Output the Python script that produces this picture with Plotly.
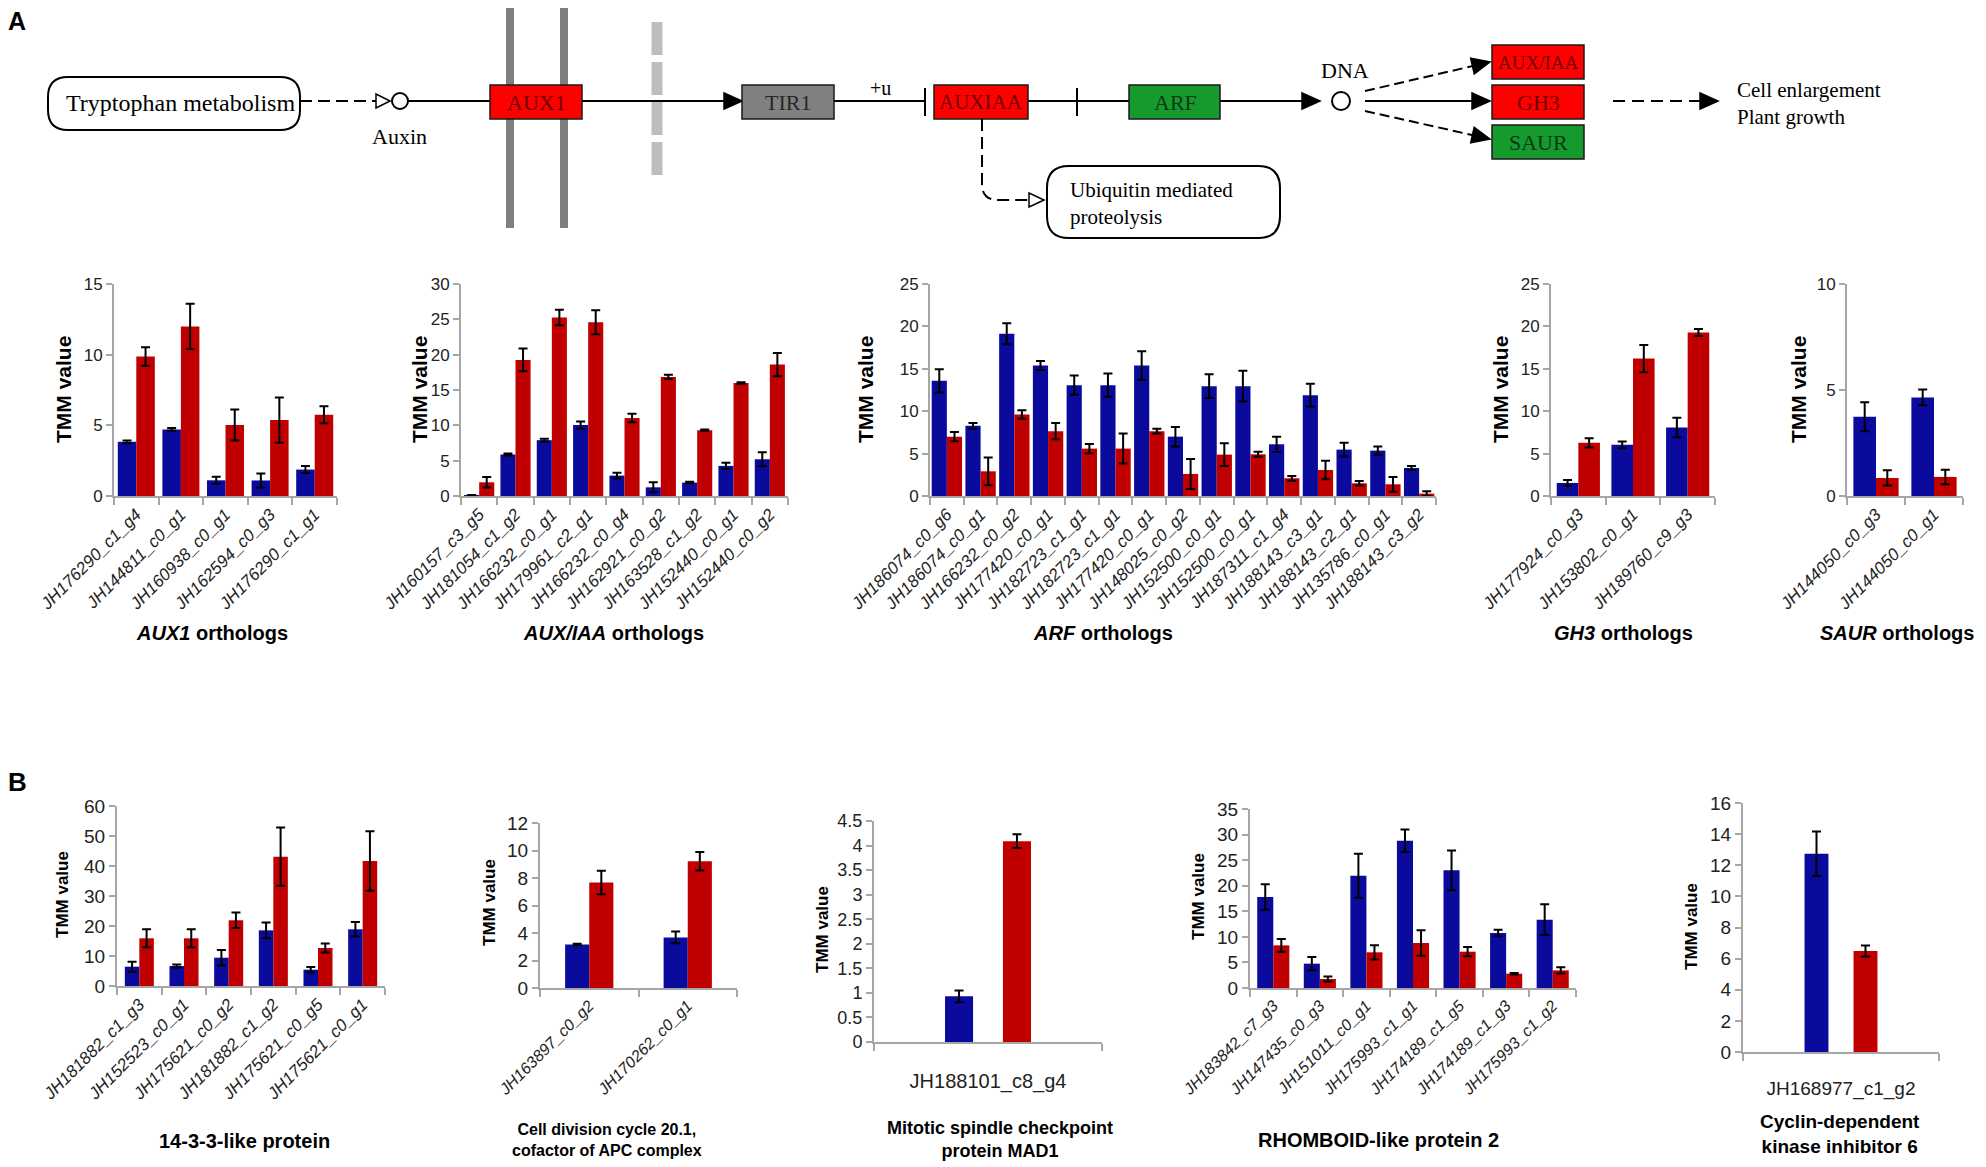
import numpy as np
import plotly.graph_objects as go

W, H = 1986, 1167          # target picture size
OFF = 8                    # default page margin of the html body
FW, FH = W - OFF, H - OFF  # figure size so that it exactly fills the window
BLUE = "#0A0A9C"
RED = "#C00000"
AXC = "#A6A6A6"
SANS = "Liberation Sans, Arial, sans-serif"
SERIF = "Liberation Serif, Times New Roman, serif"

# ---------------- data ----------------
aux1_genes = ["JH176290_c1_g4", "JH144811_c0_g1", "JH160938_c0_g1", "JH162594_c0_g3", "JH176290_c1_g1"]
aux1_blue = [3.83, 4.71, 1.11, 1.10, 1.87]
aux1_blue_err = [0.10, 0.10, 0.25, 0.50, 0.25]
aux1_red = [9.87, 12.0, 5.02, 5.37, 5.75]
aux1_red_err = [0.65, 1.6, 1.1, 1.6, 0.6]

auxiaa_genes = ["JH160157_c3_g5", "JH181054_c1_g2", "JH166232_c0_g1", "JH179961_c2_g1", "JH166232_c0_g4",
                "JH162921_c0_g2", "JH163528_c1_g2", "JH152440_c0_g1", "JH152440_c0_g2"]
auxiaa_blue = [0.1, 5.87, 7.9, 10.03, 2.89, 1.23, 1.9, 4.26, 5.2]
auxiaa_blue_err = [0.05, 0.15, 0.2, 0.5, 0.4, 0.7, 0.1, 0.45, 1.0]
auxiaa_red = [1.94, 19.26, 25.27, 24.6, 11.03, 16.85, 9.32, 16.0, 18.6]
auxiaa_red_err = [0.75, 1.6, 1.1, 1.7, 0.6, 0.3, 0.1, 0.1, 1.65]

arf_genes = ["JH186074_c0_g6", "JH186074_c0_g1", "JH166232_c0_g2", "JH177420_c0_g1", "JH182723_c1_g1",
             "JH182723_c1_g1", "JH177420_c0_g1", "JH148025_c0_g2", "JH152500_c0_g1", "JH152500_c0_g1",
             "JH187311_c1_g4", "JH188143_c3_g1", "JH188143_c2_g1", "JH135786_c0_g1", "JH188143_c3_g2"]
arf_blue = [13.58, 8.27, 19.13, 15.39, 13.07, 13.07, 15.39, 7.0, 12.95, 12.95, 6.1, 11.89, 5.47, 5.35, 3.3]
arf_blue_err = [1.38, 0.35, 1.24, 0.53, 1.14, 1.38, 1.67, 1.15, 1.4, 1.81, 0.9, 1.34, 0.8, 0.5, 0.24]
arf_red = [7.0, 2.91, 9.6, 7.64, 5.59, 5.59, 7.64, 2.6, 4.88, 4.92, 2.09, 3.07, 1.5, 1.38, 0.28]
arf_red_err = [0.55, 1.63, 0.5, 0.96, 0.55, 1.77, 0.28, 1.77, 1.34, 0.3, 0.28, 1.1, 0.26, 0.87, 0.28]

gh3_genes = ["JH177924_c0_g3", "JH153802_c0_g1", "JH189760_c9_g3"]
gh3_blue = [1.54, 6.03, 8.08]
gh3_blue_err = [0.35, 0.4, 1.15]
gh3_red = [6.27, 16.2, 19.28]
gh3_red_err = [0.55, 1.6, 0.4]

saur_genes = ["JH144050_c0_g3", "JH144050_c0_g1"]
saur_blue = [3.74, 4.65]
saur_blue_err = [0.68, 0.37]
saur_red = [0.85, 0.9]
saur_red_err = [0.36, 0.34]

p1433_genes = ["JH181882_c1_g3", "JH152523_c0_g1", "JH175621_c0_g2", "JH181882_c1_g2", "JH175621_c0_g5", "JH175621_c0_g1"]
p1433_blue = [6.44, 6.67, 9.44, 18.55, 5.44, 18.9]
p1433_blue_err = [1.67, 0.5, 2.6, 2.6, 0.9, 2.4]
p1433_red = [15.9, 15.9, 21.9, 43.1, 12.67, 41.67]
p1433_red_err = [3.0, 3.0, 2.6, 9.7, 1.5, 9.9]

cdc_genes = ["JH163897_c0_g2", "JH170262_c0_g1"]
cdc_blue = [3.16, 3.68]
cdc_blue_err = [0.05, 0.43]
cdc_red = [7.67, 9.22]
cdc_red_err = [0.85, 0.67]

mad_genes = ["JH188101_c8_g4"]
mad_blue = [0.93]
mad_blue_err = [0.12]
mad_red = [4.09]
mad_red_err = [0.14]

rhom_genes = ["JH183842_c7_g3", "JH147435_c0_g3", "JH151011_c0_g1", "JH175993_c1_g1", "JH174189_c1_g5",
              "JH174189_c1_g3", "JH175993_c1_g2"]
rhom_blue = [17.8, 4.76, 21.97, 28.8, 23.0, 10.75, 13.36]
rhom_blue_err = [2.5, 1.3, 4.3, 2.2, 3.9, 0.65, 3.0]
rhom_red = [8.34, 1.76, 6.98, 8.8, 7.1, 2.8, 3.45]
rhom_red_err = [1.24, 0.5, 1.4, 2.5, 0.9, 0.15, 0.6]

cdk_genes = ["JH168977_c1_g2"]
cdk_blue = [12.74]
cdk_blue_err = [1.43]
cdk_red = [6.49]
cdk_red_err = [0.36]

# ---------------- figure ----------------
fig = go.Figure()
layout = {}
annotations = []
shapes = []


def fx(x):
    return (x - OFF) / FW


def fy(y):
    return 1 - (y - OFF) / FH


def add_text(x, y, s, size, family=SANS, color="black", xanchor="center", angle=0, align="center"):
    annotations.append(dict(x=fx(x), y=fy(y), xref="paper", yref="paper", text=s, showarrow=False,
                            xanchor=xanchor, yanchor="middle", textangle=angle, align=align,
                            font=dict(size=size, family=family, color=color)))


def add_chart(idx, genes, blue, blue_err, red, red_err, box, ymax, dtick, barw, sep,
              tickangle=-45, italic=True, xtick_size=17, ytick_size=17, standoff=None):
    x0, x1, ytop, ybot = box
    n = len(genes)
    pos = np.arange(n)
    sfx = "" if idx == 1 else str(idx)
    xref, yref = "x" + sfx, "y" + sfx
    for vals, errs, col, off in ((blue, blue_err, BLUE, -sep / 2 - barw), (red, red_err, RED, sep / 2)):
        fig.add_trace(go.Bar(x=pos, y=vals, width=barw, offset=off, marker=dict(color=col, line=dict(width=0)),
                             error_y=dict(type="data", array=errs, color="black", thickness=2, width=4.5),
                             xaxis=xref, yaxis=yref, showlegend=False))
    xa = dict(domain=[fx(x0), fx(x1)], anchor=yref, range=[-0.5, n - 0.5], tickmode="array",
              tickvals=list(pos), ticktext=genes, tickangle=tickangle, ticks="", showline=True,
              linecolor=AXC, linewidth=2, showgrid=False, zeroline=False, automargin=False,
              tickfont=dict(size=xtick_size, family=SANS, color="#222", style="italic" if italic else "normal"),
              minor=dict(tickmode="array", tickvals=list(np.arange(n + 1) - 0.5), ticks="outside",
                         ticklen=7, tickwidth=2, tickcolor=AXC, showgrid=False))
    if standoff is not None:
        xa["ticklabelstandoff"] = standoff
    ya = dict(domain=[fy(ybot), fy(ytop)], anchor=xref, range=[0, ymax], dtick=dtick, ticks="outside",
              ticklen=6, tickwidth=2, tickcolor=AXC, showline=True, linecolor=AXC, linewidth=2,
              showgrid=False, zeroline=False, automargin=False,
              tickfont=dict(size=ytick_size, family=SANS, color="#222"))
    layout["xaxis" + sfx] = xa
    layout["yaxis" + sfx] = ya


# Panel A charts
add_chart(1, aux1_genes, aux1_blue, aux1_blue_err, aux1_red, aux1_red_err, (114, 337, 284, 496), 15, 5, 0.415, 0.0)
add_chart(2, auxiaa_genes, auxiaa_blue, auxiaa_blue_err, auxiaa_red, auxiaa_red_err, (461, 788, 284, 496), 30, 5, 0.415, 0.0)
add_chart(3, arf_genes, arf_blue, arf_blue_err, arf_red, arf_red_err, (930, 1436, 284, 496), 25, 5, 0.45, 0.0)
add_chart(4, gh3_genes, gh3_blue, gh3_blue_err, gh3_red, gh3_red_err, (1551, 1715, 284, 496), 25, 5, 0.395, 0.0)
add_chart(5, saur_genes, saur_blue, saur_blue_err, saur_red, saur_red_err, (1847, 1963, 284, 496), 10, 5, 0.39, 0.0)

# Panel B charts
add_chart(6, p1433_genes, p1433_blue, p1433_blue_err, p1433_red, p1433_red_err, (117, 385, 806, 986), 60, 10, 0.325, 0.0,
          xtick_size=17, ytick_size=19)
add_chart(7, cdc_genes, cdc_blue, cdc_blue_err, cdc_red, cdc_red_err, (540, 737, 823, 988), 12, 2, 0.245, 0.0,
          xtick_size=16, ytick_size=19)
add_chart(8, mad_genes, mad_blue, mad_blue_err, mad_red, mad_red_err, (874, 1102, 821, 1042), 4.5, 0.5, 0.123, 0.131,
          tickangle=0, italic=False, xtick_size=20, ytick_size=18, standoff=20)
add_chart(9, rhom_genes, rhom_blue, rhom_blue_err, rhom_red, rhom_red_err, (1250, 1576, 809, 988), 35, 5, 0.345, 0.0,
          xtick_size=16, ytick_size=19)
add_chart(10, cdk_genes, cdk_blue, cdk_blue_err, cdk_red, cdk_red_err, (1743, 1939, 803, 1052), 16, 2, 0.122, 0.128,
          tickangle=0, italic=False, xtick_size=19, ytick_size=19, standoff=18)

# axis titles
for x in (64, 420, 866, 1501, 1799):
    add_text(x, 390, "<b>TMM value</b>", 21, angle=-90)
for x, y in ((62, 895), (489, 903), (822, 930), (1198, 897), (1691, 927)):
    add_text(x, y, "<b>TMM value</b>", 17, angle=-90)

add_text(212, 633, "<b><i>AUX1</i> orthologs</b>", 20)
add_text(613, 633, "<b><i>AUX/IAA</i> orthologs</b>", 20)
add_text(1103, 633, "<b><i>ARF</i> orthologs</b>", 20)
add_text(1623, 633, "<b><i>GH3</i> orthologs</b>", 20)
add_text(1897, 633, "<b><i>SAUR</i> orthologs</b>", 20)

add_text(244, 1141, "<b>14-3-3-like protein</b>", 20)
add_text(607, 1140, "<b>Cell division cycle 20.1,<br>cofactor of APC complex</b>", 16)
add_text(1000, 1139, "<b>Mitotic spindle checkpoint<br>protein MAD1</b>", 18)
add_text(1378, 1140, "<b>RHOMBOID-like protein 2</b>", 20)
add_text(1840, 1134, "<b>Cyclin-dependent<br>kinase inhibitor 6</b>", 19)

add_text(17, 21, "<b>A</b>", 25)
add_text(17, 782, "<b>B</b>", 26)

# ---------------- pathway diagram ----------------
MAINY = 101


def sline(x0, y0, x1, y1, color="black", width=2, dash=None):
    ln = dict(color=color, width=width)
    if dash:
        ln["dash"] = dash
    shapes.append(dict(type="line", xref="paper", yref="paper", x0=fx(x0), y0=fy(y0), x1=fx(x1), y1=fy(y1), line=ln))


def srect(x0, y0, x1, y1, fill, lc="#1a1a1a", lw=1.5):
    shapes.append(dict(type="rect", xref="paper", yref="paper", x0=fx(x0), y0=fy(y0), x1=fx(x1), y1=fy(y1),
                       fillcolor=fill, line=dict(color=lc, width=lw)))


def spath(d, fill="rgba(0,0,0,0)", lc="black", lw=2, dash=None):
    ln = dict(color=lc, width=lw)
    if dash:
        ln["dash"] = dash
    shapes.append(dict(type="path", xref="paper", yref="paper", path=d, fillcolor=fill, line=ln))


def pt(x, y):
    return f"{fx(x):.6f},{fy(y):.6f}"


def rrect(x0, y0, x1, y1, r):
    d = (f"M {pt(x0 + r, y0)} L {pt(x1 - r, y0)} Q {pt(x1, y0)} {pt(x1, y0 + r)} "
         f"L {pt(x1, y1 - r)} Q {pt(x1, y1)} {pt(x1 - r, y1)} L {pt(x0 + r, y1)} "
         f"Q {pt(x0, y1)} {pt(x0, y1 - r)} L {pt(x0, y0 + r)} Q {pt(x0, y0)} {pt(x0 + r, y0)} Z")
    spath(d, fill="white", lw=2)


def head(tx, ty, ux, uy, L=18, hw=8, fill="black"):
    nrm = (ux ** 2 + uy ** 2) ** 0.5
    ux, uy = ux / nrm, uy / nrm
    bx, by = tx - L * ux, ty - L * uy
    nx, ny = -uy, ux
    d = f"M {pt(tx, ty)} L {pt(bx + hw * nx, by + hw * ny)} L {pt(bx - hw * nx, by - hw * ny)} Z"
    spath(d, fill=fill, lw=1.5)


def circ(cx, cy, r):
    shapes.append(dict(type="circle", xref="paper", yref="paper", x0=fx(cx - r), y0=fy(cy + r),
                       x1=fx(cx + r), y1=fy(cy - r), fillcolor="white", line=dict(color="black", width=2)))


# membrane bars (behind boxes)
sline(510, 8, 510, 228, color="#7F7F7F", width=8)
sline(564, 8, 564, 228, color="#7F7F7F", width=8)
sline(657, 22, 657, 182, color="#BDBDBD", width=11, dash="33px,7px")

# Tryptophan metabolism -> Auxin
rrect(48, 77, 300, 130, 20)
add_text(180, 103, "Tryptophan metabolism", 24, family=SERIF)
sline(300, MAINY, 376, MAINY, dash="12px,6px")
head(390, MAINY, 1, 0, L=14, hw=7, fill="white")
circ(400, MAINY, 8)
add_text(399, 136, "Auxin", 22, family=SERIF)
sline(408, MAINY, 490, MAINY)

# AUX1
srect(490, 85, 582, 119, "#FF0000")
add_text(536, 102, "AUX1", 22, family=SERIF, color="#6a0000")
sline(582, MAINY, 724, MAINY)
head(742, MAINY, 1, 0)

# TIR1
srect(742, 85, 834, 119, "#808080")
add_text(788, 102, "TIR1", 22, family=SERIF, color="#262626")
add_text(880, 88, "+u", 20, family=SERIF)
sline(834, MAINY, 925, MAINY)
sline(925, 88, 925, 116)

# AUX/IAA
srect(934, 85, 1028, 119, "#FF0000")
add_text(981, 102, "AUXIAA", 21, family=SERIF, color="#6a0000")
sline(1028, MAINY, 1129, MAINY)
sline(1077, 88, 1077, 116)

# ARF
srect(1129, 85, 1220, 119, "#169A2E")
add_text(1175, 102, "ARF", 22, family=SERIF, color="#0a3a10")
sline(1220, MAINY, 1302, MAINY)
head(1320, MAINY, 1, 0)
circ(1341, MAINY, 9)
add_text(1345, 70, "DNA", 22, family=SERIF)

# three outputs
for (sx, sy), (tx, ty), dsh in (((1365, 91), (1490, 62), "10px,5px"), ((1365, 101), (1490, 101), None),
                                ((1365, 111), (1490, 139), "10px,5px")):
    ux, uy = tx - sx, ty - sy
    nrm = (ux ** 2 + uy ** 2) ** 0.5
    sline(sx, sy, tx - 16 * ux / nrm, ty - 16 * uy / nrm, dash=dsh)
    head(tx, ty, ux, uy)

srect(1492, 45, 1584, 79, "#FF0000")
add_text(1538, 62, "AUX/IAA", 19, family=SERIF, color="#6a0000")
srect(1492, 85, 1584, 119, "#FF0000")
add_text(1538, 102, "GH3", 22, family=SERIF, color="#6a0000")
srect(1492, 125, 1584, 159, "#169A2E")
add_text(1538, 142, "SAUR", 22, family=SERIF, color="#0a3a10")

sline(1613, MAINY, 1700, MAINY, dash="12px,7px")
head(1718, MAINY, 1, 0)
add_text(1735, 104, "Cell enlargement<br>Plant growth", 21, family=SERIF, xanchor="left", align="left")

# Ubiquitin branch
spath(f"M {pt(982, 119)} L {pt(982, 184)} Q {pt(982, 200)} {pt(998, 200)} L {pt(1028, 200)}",
      lw=2, dash="12px,6px")
head(1044, 200, 1, 0, L=15, hw=7, fill="white")
rrect(1047, 166, 1280, 238, 22)
add_text(1068, 203, "Ubiquitin mediated<br>proteolysis", 21, family=SERIF, xanchor="left", align="left")

fig.update_layout(template="none", width=FW, height=FH, margin=dict(l=0, r=0, t=0, b=0, pad=0, autoexpand=False),
                  paper_bgcolor="white", plot_bgcolor="white", barmode="overlay", showlegend=False,
                  annotations=annotations, shapes=shapes, **layout)
fig.write_html("out.html")
